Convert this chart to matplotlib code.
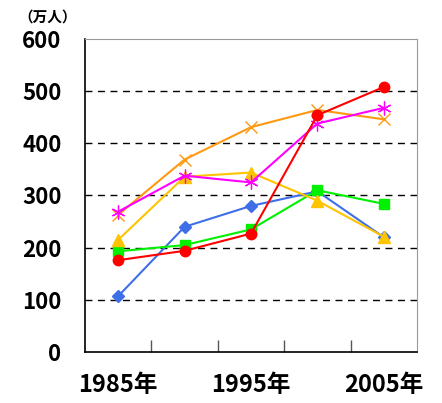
import matplotlib
matplotlib.use("Agg")
import matplotlib.pyplot as plt
import numpy as np

plt.rcParams['font.family'] = ['Noto Sans CJK JP', 'DejaVu Sans']

categories = ["1985年", "", "1995年", "", "2005年"]
blue = [107, 240, 280, 308, 220]
red = [176, 194, 227, 454, 508]
green = [193, 205, 235, 310, 284]
yellow = [215, 336, 344, 290, 221]
orange = [263, 369, 431, 464, 446]
magenta = [269, 338, 325, 438, 468]
yticks = [0, 100, 200, 300, 400, 500, 600]

fig = plt.figure(figsize=(4.42, 4.03), dpi=100)
ax = fig.add_axes([85/442, 51/403, 332/442, 313/403])
x = np.arange(len(categories))

ax.plot(x, blue, color='#3F6FE8', lw=1.5, marker='D', ms=6, zorder=3)
ax.plot(x, green, color='#00F000', lw=1.5, marker='s', ms=7, zorder=4)
ax.plot(x, yellow, color='#FFC400', lw=1.5, marker='^', ms=8, zorder=5)
ax.plot(x, orange, color='#FF9A10', lw=1.5, marker='x', ms=9, mew=1.0, zorder=6)
ax.plot(x, magenta, color='#FF00FF', lw=1.5, marker=(6, 2, 0), ms=10, mew=0.9, zorder=7)
ax.plot(x, red, color='#FF0000', lw=1.5, marker='o', ms=7.5, zorder=8)

ax.set_xlim(-0.5, 4.5)
ax.set_ylim(0, 600)
ax.set_yticks(yticks)
ax.set_yticklabels([str(v) for v in yticks], fontsize=16, fontweight='bold')
ax.tick_params(axis='y', length=0, pad=17)
for v in yticks[1:-1]:
    ax.axhline(v, color='black', lw=1, ls=(0, (5, 4)), zorder=1)

ax.set_xticks(np.arange(0.5, 4.0, 1.0))
ax.set_xticklabels([])
ax.tick_params(axis='x', direction='in', length=9, width=1, color='#555555')
for i, lab in enumerate(categories):
    if lab:
        ax.text(i, -0.068, lab, transform=ax.get_xaxis_transform(), ha='center', va='top',
                fontsize=17, fontweight='bold')

for s in ['top', 'right']:
    ax.spines[s].set_color('#999999')
for s in ['left', 'bottom']:
    ax.spines[s].set_color('black')
    ax.spines[s].set_linewidth(1.2)

fig.text(18/442, 1 - 17/403, "（万人）", fontsize=10.5, fontweight='bold', va='center', ha='left')

fig.savefig("out.png", dpi=100)
